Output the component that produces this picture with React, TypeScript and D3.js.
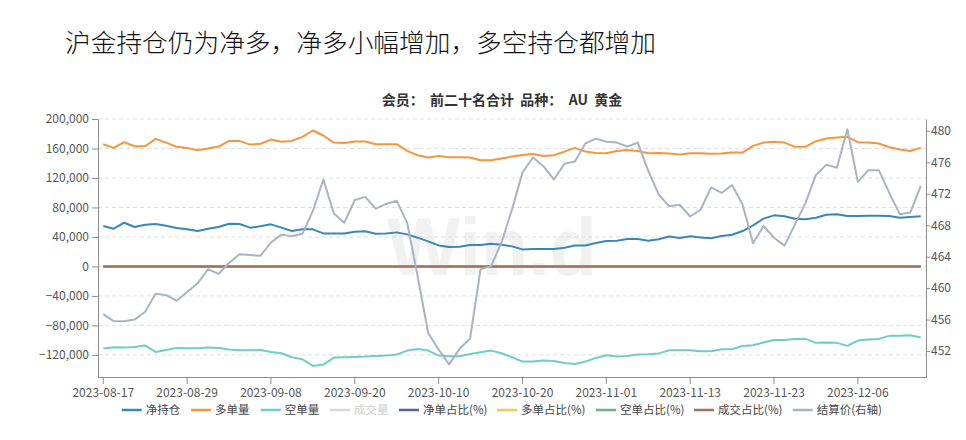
import React, { useEffect, useRef } from "react";
import * as d3 from "d3";

// trading days shown on the category axis
const dates = [
  "2023-08-17", "2023-08-18", "2023-08-21", "2023-08-22", "2023-08-23", "2023-08-24", "2023-08-25", "2023-08-28",
  "2023-08-29", "2023-08-30", "2023-08-31", "2023-09-01", "2023-09-04", "2023-09-05", "2023-09-06", "2023-09-07",
  "2023-09-08", "2023-09-11", "2023-09-12", "2023-09-13", "2023-09-14", "2023-09-15", "2023-09-18", "2023-09-19",
  "2023-09-20", "2023-09-21", "2023-09-22", "2023-09-25", "2023-09-26", "2023-09-27", "2023-09-28", "2023-10-09",
  "2023-10-10", "2023-10-11", "2023-10-12", "2023-10-13", "2023-10-16", "2023-10-17", "2023-10-18", "2023-10-19",
  "2023-10-20", "2023-10-23", "2023-10-24", "2023-10-25", "2023-10-26", "2023-10-27", "2023-10-30", "2023-10-31",
  "2023-11-01", "2023-11-02", "2023-11-03", "2023-11-06", "2023-11-07", "2023-11-08", "2023-11-09", "2023-11-10",
  "2023-11-13", "2023-11-14", "2023-11-15", "2023-11-16", "2023-11-17", "2023-11-20", "2023-11-21", "2023-11-22",
  "2023-11-23", "2023-11-24", "2023-11-27", "2023-11-28", "2023-11-29", "2023-11-30", "2023-12-04", "2023-12-05",
  "2023-12-06", "2023-12-07", "2023-12-08", "2023-12-11", "2023-12-12", "2023-12-13", "2023-12-14",
];

const tickDates = [
  "2023-08-17", "2023-08-29", "2023-09-08", "2023-09-20", "2023-10-10",
  "2023-10-20", "2023-11-01", "2023-11-13", "2023-11-23", "2023-12-06",
];

// 净持仓
const netPosition = [
  54800, 51200, 59300, 53500, 56600, 57500, 55300, 52100, 50300, 48000,
  51200, 53500, 58000, 57500, 52600, 54400, 57100, 52600, 48000, 50300,
  50300, 44800, 44800, 44800, 47100, 47600, 44400, 44800, 46200, 43500,
  39000, 34000, 28500, 26300, 26700, 29000, 29000, 30800, 29400, 27200,
  23100, 23600, 23600, 23600, 25400, 28500, 28500, 31700, 34400, 34900,
  37200, 37200, 34900, 37000, 40500, 38500, 40800, 39400, 38100, 41200,
  43000, 48000, 55700, 64800, 69300, 68000, 64800, 63900, 66100, 70200,
  70700, 68400, 68400, 68900, 68900, 68400, 66100, 67000, 68000,
];

// 多单量
const longPosition = [
  165800, 160800, 168500, 163100, 163100, 173000, 168000, 162200, 160800, 157600,
  159900, 162600, 170300, 170300, 165300, 166300, 172100, 169000, 170300, 175800,
  184400, 177600, 168000, 167600, 169400, 169400, 165800, 165800, 165800, 156700,
  150800, 147700, 149900, 148100, 148100, 147700, 144100, 144100, 146300, 149000,
  151300, 152600, 149900, 150800, 155800, 160800, 155800, 154000, 153600, 156700,
  158100, 156700, 153600, 154000, 153100, 151800, 153600, 153600, 152700, 153100,
  154500, 154500, 163500, 168000, 169000, 168000, 162200, 162200, 169900, 173500,
  174900, 175800, 168500, 168000, 166700, 161700, 158600, 156700, 160800,
];

// 空单量
const shortPosition = [
  -111400, -109600, -110100, -109200, -107400, -116000, -113300, -110500, -111000, -111000,
  -110100, -110500, -112800, -113700, -113700, -113300, -116000, -117800, -123200, -125900,
  -135000, -133200, -123700, -123200, -122800, -122300, -121400, -121000, -119600, -114200,
  -111900, -114200, -121000, -121900, -121900, -118700, -116400, -114200, -117800, -123200,
  -129100, -129100, -127700, -128200, -130900, -132300, -129100, -124100, -120500, -122300,
  -121400, -119600, -119100, -118000, -113700, -113700, -113700, -115100, -115100, -112400,
  -112400, -107800, -106900, -103300, -99700, -99700, -98300, -98300, -103700, -103300,
  -103700, -107800, -100600, -99200, -98300, -94200, -94200, -93300, -96500,
];

// 占比(%) series all sit on the zero line at this scale
const ratioValues = [
  0, 0, 0, 0, 0, 0, 0, 0, 0, 0,
  0, 0, 0, 0, 0, 0, 0, 0, 0, 0,
  0, 0, 0, 0, 0, 0, 0, 0, 0, 0,
  0, 0, 0, 0, 0, 0, 0, 0, 0, 0,
  0, 0, 0, 0, 0, 0, 0, 0, 0, 0,
  0, 0, 0, 0, 0, 0, 0, 0, 0, 0,
  0, 0, 0, 0, 0, 0, 0, 0, 0, 0,
  0, 0, 0, 0, 0, 0, 0, 0, 0,
];

// 结算价(右轴)
const settlePrice = [
  456.7, 455.8, 455.8, 456.0, 457.0, 459.3, 459.1, 458.4, 459.5, 460.6,
  462.4, 461.8, 463.2, 464.3, 464.2, 464.1, 465.8, 466.8, 466.6, 466.9,
  469.8, 473.8, 469.5, 468.3, 471.2, 471.6, 470.1, 470.7, 471.1, 468.3,
  461.5, 454.3, 452.2, 450.3, 452.3, 453.6, 462.4, 462.8, 465.8, 470.0,
  474.7, 476.6, 475.5, 473.8, 475.8, 476.1, 478.4, 479.0, 478.6, 478.5,
  478.0, 478.5, 474.9, 471.9, 470.4, 470.6, 469.1, 470.0, 472.8, 472.1,
  473.1, 470.6, 465.7, 467.9, 466.4, 465.4, 468.1, 470.8, 474.4, 475.7,
  475.3, 480.2, 473.5, 475.0, 475.0, 472.1, 469.4, 469.6, 473.0,
];

const leftTicks = [-120000, -80000, -40000, 0, 40000, 80000, 120000, 160000, 200000];
const rightTicks = [452, 456, 460, 464, 468, 472, 476, 480];

const legendNames = [
  "净持仓", "多单量", "空单量", "成交量", "净单占比(%)",
  "多单占比(%)", "空单占比(%)", "成交占比(%)", "结算价(右轴)",
];
const legendColors = [
  "#3a86b8", "#f7953d", "#6ccdcb", "#d8d8d8", "#56629f",
  "#f0c95e", "#6db380", "#9a735a", "#a9b4c2",
];
const legendX = [121.7, 191, 260.7, 330, 399, 497, 596, 694, 792.7];

const FONT = "'Noto Sans CJK SC', 'Open Sans', sans-serif";

export default function App() {
  const svgRef = useRef<SVGSVGElement>(null);

  useEffect(() => {
    const width = 966;
    const height = 440;
    const plot = { left: 98, right: 926, top: 119, bottom: 377 };

    const svg = d3.select(svgRef.current).attr("width", width).attr("height", height);
    svg.selectAll("*").remove();

    svg.append("rect").attr("width", width).attr("height", height).attr("fill", "#fff");

    const x = d3.scaleBand<string>().domain(dates).range([plot.left, plot.right]);
    const cx = (i: number) => (x(dates[i]) as number) + x.bandwidth() / 2;
    const yLeft = d3.scaleLinear().domain([-150000, 200000]).range([plot.bottom, plot.top]);
    const yRight = d3.scaleLinear().domain([448.7, 481.5]).range([plot.bottom, plot.top]);

    // page title
    svg
      .append("text")
      .attr("x", 65)
      .attr("y", 52)
      .attr("textLength", 591)
      .attr("lengthAdjust", "spacingAndGlyphs")
      .style("font-family", FONT)
      .style("font-size", "25.5px")
      .style("font-weight", 300)
      .attr("fill", "#111")
      .text("沪金持仓仍为净多，净多小幅增加，多空持仓都增加");

    // chart title
    svg
      .append("text")
      .attr("x", 502)
      .attr("y", 105)
      .attr("text-anchor", "middle")
      .style("font-family", FONT)
      .style("font-size", "14px")
      .style("font-weight", "bold")
      .style("white-space", "pre")
      .attr("fill", "#333")
      .text("会员：  前二十名合计  品种：  AU  黄金");

    // watermark
    svg
      .append("text")
      .attr("x", 387)
      .attr("y", 275)
      .attr("textLength", 210)
      .attr("lengthAdjust", "spacingAndGlyphs")
      .style("font-family", "'Liberation Sans', Arial, sans-serif")
      .style("font-size", "82px")
      .style("font-weight", "bold")
      .attr("fill", "#f1f1f1")
      .text("Win.d");

    // grid
    svg
      .append("g")
      .selectAll("line")
      .data(leftTicks)
      .enter()
      .append("line")
      .attr("x1", plot.left)
      .attr("x2", plot.right)
      .attr("y1", (d) => yLeft(d))
      .attr("y2", (d) => yLeft(d))
      .attr("stroke", "#dedede")
      .attr("stroke-dasharray", "4,3");

    const leftLine = d3
      .line<number>()
      .x((_, i) => cx(i))
      .y((d) => yLeft(d));
    const rightLine = d3
      .line<number>()
      .x((_, i) => cx(i))
      .y((d) => yRight(d));

    const series = [
      { values: netPosition, color: legendColors[0], line: leftLine },
      { values: longPosition, color: legendColors[1], line: leftLine },
      { values: shortPosition, color: legendColors[2], line: leftLine },
      { values: ratioValues, color: legendColors[4], line: leftLine },
      { values: ratioValues, color: legendColors[5], line: leftLine },
      { values: ratioValues, color: legendColors[6], line: leftLine },
      { values: ratioValues, color: legendColors[7], line: leftLine },
      { values: settlePrice, color: legendColors[8], line: rightLine },
    ];

    series.forEach((s) => {
      svg
        .append("path")
        .datum(s.values)
        .attr("fill", "none")
        .attr("stroke", s.color)
        .attr("stroke-width", 2)
        .attr("stroke-linejoin", "round")
        .attr("d", s.line);
    });

    // axes
    const styleAxis = (g: d3.Selection<SVGGElement, unknown, null, undefined>) => {
      g.select(".domain").attr("stroke", "#8c8c8c");
      g.selectAll(".tick line").attr("stroke", "#8c8c8c");
      g.selectAll(".tick text")
        .attr("fill", "#555")
        .style("font-family", FONT)
        .style("font-size", "12px");
    };

    const gx = svg
      .append("g")
      .attr("transform", `translate(0,${plot.bottom})`)
      .call(d3.axisBottom(x).tickValues(tickDates).tickSize(7).tickPadding(4).tickSizeOuter(0));
    styleAxis(gx);

    const gl = svg
      .append("g")
      .attr("transform", `translate(${plot.left},0)`)
      .call(
        d3
          .axisLeft(yLeft)
          .tickValues(leftTicks)
          .tickFormat(d3.format(",") as any)
          .tickSize(6)
          .tickPadding(3)
          .tickSizeOuter(0)
      );
    styleAxis(gl);

    const gr = svg
      .append("g")
      .attr("transform", `translate(${plot.right},0)`)
      .call(d3.axisRight(yRight).tickValues(rightTicks).tickSize(4).tickPadding(1).tickSizeOuter(0));
    styleAxis(gr);

    // legend
    const legend = svg
      .append("g")
      .selectAll("g")
      .data(legendNames)
      .enter()
      .append("g")
      .attr("transform", (_, i) => `translate(${legendX[i]},410)`);

    legend
      .append("line")
      .attr("x1", 0)
      .attr("x2", 20)
      .attr("stroke", (_, i) => legendColors[i])
      .attr("stroke-width", 2.5);

    legend
      .append("text")
      .attr("x", 24)
      .attr("y", 4)
      .style("font-family", FONT)
      .style("font-size", "11.5px")
      .attr("fill", (_, i) => (i === 3 ? "#cfcfcf" : "#444"))
      .text((d) => d);
  }, []);

  return <svg ref={svgRef} style={{ position: "absolute", left: 0, top: 0 }} />;
}
